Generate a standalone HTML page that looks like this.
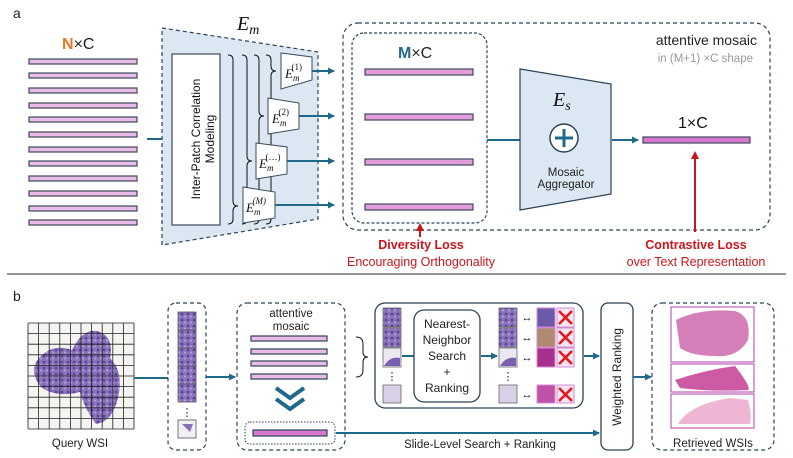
<!DOCTYPE html>
<html><head><meta charset="utf-8"><style>
html,body{margin:0;padding:0;background:#fff;}
svg{display:block;font-family:"Liberation Sans",sans-serif;}
</style></head><body>
<svg width="793" height="458" viewBox="0 0 793 458" xmlns="http://www.w3.org/2000/svg">
<defs>
<marker id="ab" markerWidth="8" markerHeight="8" refX="6" refY="4" orient="auto" markerUnits="userSpaceOnUse"><path d="M0,0.5 L7,4 L0,7.5 Z" fill="#1f6a8c"/></marker>
<marker id="ar" markerWidth="10" markerHeight="10" refX="5" refY="5" orient="auto" markerUnits="userSpaceOnUse"><path d="M0,1 L8,5 L0,9 Z" fill="#c8161d"/></marker>
<pattern id="tis" width="6" height="6" patternUnits="userSpaceOnUse"><rect width="6" height="6" fill="#8a72bc"/><circle cx="2" cy="2" r="1.3" fill="#5a3f92"/><circle cx="5" cy="4.5" r="1" fill="#b8a8d8"/></pattern>
</defs>

<!-- Panel a -->
<text x="13" y="18" font-size="14" fill="#222">a</text>
<text x="62" y="49" font-size="16" fill="#222"><tspan fill="#e87722" font-weight="bold">N</tspan>×C</text>
<g fill="#ebbbe8" stroke="#3b4a5a" stroke-width="1.2">
<rect x="29" y="59" width="108" height="5"/><rect x="29" y="73" width="108" height="5"/><rect x="29" y="88" width="108" height="5"/><rect x="29" y="103" width="108" height="5"/><rect x="29" y="117" width="108" height="5"/><rect x="29" y="132" width="108" height="5"/><rect x="29" y="147" width="108" height="5"/><rect x="29" y="161" width="108" height="5"/><rect x="29" y="176" width="108" height="5"/><rect x="29" y="191" width="108" height="5"/><rect x="29" y="206" width="108" height="5"/><rect x="29" y="220" width="108" height="5"/>
</g>
<line x1="147" y1="139" x2="169" y2="139" stroke="#1f6a8c" stroke-width="2" marker-end="url(#ab)"/>
<polygon points="162,28 318,52 318,219 162,245" fill="#dbe8f4" stroke="#2b4458" stroke-width="1.2" stroke-dasharray="4,3"/>
<text x="237" y="30" font-size="20" font-style="italic" font-family="Liberation Serif,serif" fill="#111">E<tspan font-size="14" dy="4">m</tspan></text>
<rect x="172" y="54" width="48" height="171" fill="#fff" stroke="#3b4a5a" stroke-width="1.2"/>
<text transform="translate(200,139) rotate(-90)" text-anchor="middle" font-size="12" fill="#111">Inter-Patch Correlation</text>
<text transform="translate(214,139) rotate(-90)" text-anchor="middle" font-size="12" fill="#111">Modeling</text>
<g fill="none" stroke="#111" stroke-width="1">
<path d="M228,55 Q233,55 233,60 L233,201 Q233,206 238,206 Q233,206 233,211 L233,219 Q233,224 228,224"/>
<path d="M242,55 Q247,55 247,60 L247,156 Q247,161 252,161 Q247,161 247,166 L247,219 Q247,224 242,224"/>
<path d="M254,55 Q259,55 259,60 L259,111 Q259,116 264,116 Q259,116 259,121 L259,219 Q259,224 254,224"/>
<path d="M266,55 Q271,55 271,60 L271,66 Q271,71 276,71 Q271,71 271,76 L271,219 Q271,224 266,224"/>
</g>
<g fill="#fff" stroke="#3b4a5a" stroke-width="1">
<polygon points="281,53 312,57 312,80 281,89"/>
<polygon points="268,98 299,103 299,129 268,134"/>
<polygon points="256,143 287,147 287,174 256,179"/>
<polygon points="243,187 275,192 275,218 243,223"/>
</g>
<g font-family="Liberation Serif,serif" font-style="italic" fill="#111">
<text x="285" y="78" font-size="13">E<tspan font-size="9" dy="3">m</tspan><tspan font-size="9" dx="-8" dy="-11" font-style="normal">(1)</tspan></text>
<text x="272" y="123" font-size="13">E<tspan font-size="9" dy="3">m</tspan><tspan font-size="9" dx="-8" dy="-11" font-style="normal">(2)</tspan></text>
<text x="259" y="168" font-size="13">E<tspan font-size="9" dy="3">m</tspan><tspan font-size="9" dx="-8" dy="-11" font-style="normal">(…)</tspan></text>
<text x="246" y="212" font-size="13">E<tspan font-size="9" dy="3">m</tspan><tspan font-size="9" dx="-8" dy="-11">(M)</tspan></text>
</g>
<g stroke="#1f6a8c" stroke-width="2" marker-end="url(#ab)">
<line x1="312" y1="71" x2="334" y2="71"/><line x1="299" y1="116" x2="334" y2="116"/><line x1="287" y1="161" x2="334" y2="161"/><line x1="275" y1="205" x2="334" y2="205"/>
</g>
<rect x="343" y="23" width="427" height="207" rx="15" fill="none" stroke="#2b4458" stroke-width="1.2" stroke-dasharray="4,3"/>
<rect x="352" y="33" width="135" height="190" rx="12" fill="none" stroke="#2b4458" stroke-width="1.2" stroke-dasharray="3,2"/>
<text x="398" y="58" font-size="16" fill="#222"><tspan fill="#1f6a8c" font-weight="bold">M</tspan>×C</text>
<g fill="#e39ddb" stroke="#3b4a5a" stroke-width="1.2">
<rect x="365" y="69" width="108" height="6"/><rect x="365" y="114" width="108" height="6"/><rect x="365" y="159" width="108" height="6"/><rect x="365" y="204" width="108" height="6"/>
</g>
<line x1="487" y1="140" x2="520" y2="140" stroke="#1f6a8c" stroke-width="2"/>
<polygon points="520,69 611,84 611,194 520,210" fill="#dbe8f4" stroke="#2b4458" stroke-width="1.2"/>
<text x="553" y="106" font-size="20" font-style="italic" font-family="Liberation Serif,serif" fill="#111">E<tspan font-size="14" dy="4">s</tspan></text>
<circle cx="564" cy="138" r="14" fill="#fff" stroke="#2b4458" stroke-width="1.5"/>
<path d="M564,129 V147 M555,138 H573" stroke="#1f6a8c" stroke-width="3"/>
<text x="566" y="176" text-anchor="middle" font-size="11.5" fill="#222">Mosaic</text>
<text x="566" y="188" text-anchor="middle" font-size="11.5" fill="#222">Aggregator</text>
<line x1="612" y1="140" x2="638" y2="140" stroke="#1f6a8c" stroke-width="2" marker-end="url(#ab)"/>
<text x="678" y="128" font-size="16" fill="#111">1×C</text>
<rect x="643" y="137" width="107" height="6" fill="#d877cf" stroke="#3b4a5a" stroke-width="1.2"/>
<line x1="695" y1="232" x2="695" y2="154" stroke="#c8161d" stroke-width="2" marker-end="url(#ar)"/>
<text x="757" y="45" text-anchor="end" font-size="14" fill="#222">attentive mosaic</text>
<text x="753" y="62" text-anchor="end" font-size="11.5" fill="#999">in (M+1) ×C shape</text>
<line x1="420" y1="237" x2="420" y2="226" stroke="#c8161d" stroke-width="2" marker-end="url(#ar)"/>
<text x="421" y="249" text-anchor="middle" font-size="12.5" font-weight="bold" fill="#c8161d">Diversity Loss</text>
<text x="421" y="266" text-anchor="middle" font-size="12.5" fill="#c8161d">Encouraging Orthogonality</text>
<text x="696" y="249" text-anchor="middle" font-size="12.5" font-weight="bold" fill="#c8161d">Contrastive Loss</text>
<text x="696" y="266" text-anchor="middle" font-size="12.5" fill="#c8161d">over Text Representation</text>
<line x1="7" y1="274" x2="786" y2="274" stroke="#555" stroke-width="1.2"/>

<!-- Panel b -->
<text x="13" y="301" font-size="14" fill="#222">b</text>
<rect x="28" y="323" width="106" height="106" fill="#f6f4f0"/>
<path d="M36,362 Q50,342 72,350 Q84,326 100,332 Q114,338 110,358 Q124,372 118,398 Q112,422 96,424 Q84,408 80,392 Q58,398 42,388 Q30,375 36,362 Z" fill="url(#tis)"/>
<g stroke="#222" stroke-width="0.8">
<path d="M28,323 H134 M28,333.6 H134 M28,344.2 H134 M28,354.8 H134 M28,365.4 H134 M28,376 H134 M28,386.6 H134 M28,397.2 H134 M28,407.8 H134 M28,418.4 H134 M28,429 H134"/>
<path d="M28,323 V429 M38.6,323 V429 M49.2,323 V429 M59.8,323 V429 M70.4,323 V429 M81,323 V429 M91.6,323 V429 M102.2,323 V429 M112.8,323 V429 M123.4,323 V429 M134,323 V429"/>
</g>
<text x="80" y="447" text-anchor="middle" font-size="11.5" fill="#222">Query WSI</text>
<line x1="134" y1="378" x2="168" y2="378" stroke="#1f6a8c" stroke-width="2"/>
<rect x="168" y="303" width="38" height="147" rx="8" fill="none" stroke="#2b4458" stroke-width="1.2" stroke-dasharray="4,3"/>
<g stroke="#555" stroke-width="0.8" fill="url(#tis)">
<rect x="178" y="312" width="18" height="18"/><rect x="178" y="330" width="18" height="18"/><rect x="178" y="348" width="18" height="18"/><rect x="178" y="366" width="18" height="18"/><rect x="178" y="384" width="18" height="18"/>
</g>
<text x="187" y="416" text-anchor="middle" font-size="11" fill="#222">⋮</text>
<rect x="178" y="420" width="18" height="18" fill="#f2eff5" stroke="#555" stroke-width="0.8"/>
<path d="M182,424 L193,424 L190,432 Z" fill="#8870b8"/>
<line x1="206" y1="377" x2="235" y2="377" stroke="#1f6a8c" stroke-width="2" marker-end="url(#ab)"/>
<rect x="237" y="303" width="108" height="147" rx="10" fill="none" stroke="#2b4458" stroke-width="1.2" stroke-dasharray="4,3"/>
<text x="291" y="317" text-anchor="middle" font-size="11.5" fill="#222">attentive</text>
<text x="291" y="330" text-anchor="middle" font-size="11.5" fill="#222">mosaic</text>
<g fill="#ebbbe8" stroke="#2b4458" stroke-width="1.2">
<rect x="251" y="336" width="76" height="5"/><rect x="251" y="349" width="76" height="5"/><rect x="251" y="361" width="76" height="5"/><rect x="251" y="374" width="76" height="5"/>
</g>
<path d="M276,388 L290,398 L304,388 M276,399 L290,409 L304,399" fill="none" stroke="#1f6a8c" stroke-width="4"/>
<rect x="245" y="422" width="90" height="22" rx="5" fill="none" stroke="#2b4458" stroke-width="1" stroke-dasharray="1.5,1.5"/>
<rect x="253" y="430" width="74" height="6" fill="#d877cf" stroke="#2b4458" stroke-width="1.2"/>
<line x1="336" y1="433" x2="599" y2="433" stroke="#1f6a8c" stroke-width="2" marker-end="url(#ab)"/>
<text x="480" y="448" text-anchor="middle" font-size="11.5" fill="#222">Slide-Level Search + Ranking</text>
<path d="M356,337 Q363,337 363,344 L363,352 Q363,357 368,357 Q363,357 363,362 L363,370 Q363,377 356,377" fill="none" stroke="#111" stroke-width="1"/>
<rect x="375" y="303" width="208" height="105" rx="10" fill="#fff" stroke="#2b4458" stroke-width="1.3"/>
<g stroke="#666" stroke-width="0.8" fill="url(#tis)">
<rect x="383" y="308" width="18" height="19"/><rect x="383" y="328" width="18" height="19"/><rect x="383" y="348" width="18" height="19" fill="#ece8f2"/><rect x="383" y="385" width="18" height="18" fill="#d8d0e6"/>
<rect x="499" y="308" width="18" height="19"/><rect x="499" y="328" width="18" height="19"/><rect x="499" y="348" width="18" height="19" fill="#ece8f2"/><rect x="499" y="385" width="18" height="18" fill="#d8d0e6"/>
</g>
<path d="M384,366 Q390,356 400,358 L400,366 Z M500,366 Q506,356 516,358 L516,366 Z" fill="#7a5fb0"/>
<text x="392" y="380" text-anchor="middle" font-size="11" fill="#222">⋮</text>
<text x="508" y="380" text-anchor="middle" font-size="11" fill="#222">⋮</text>
<line x1="402" y1="356" x2="414" y2="356" stroke="#1f6a8c" stroke-width="2"/>
<rect x="414" y="310" width="66" height="92" rx="10" fill="#fff" stroke="#2b4458" stroke-width="1.3"/>
<g font-size="12" fill="#222" text-anchor="middle">
<text x="447" y="328">Nearest-</text><text x="447" y="344">Neighbor</text><text x="447" y="360">Search</text><text x="447" y="376">+</text><text x="447" y="392">Ranking</text>
</g>
<line x1="481" y1="356" x2="497" y2="356" stroke="#1f6a8c" stroke-width="2" marker-end="url(#ab)"/>
<g font-size="11" fill="#111" text-anchor="middle">
<text x="527" y="321">↔</text><text x="527" y="341">↔</text><text x="527" y="361">↔</text><text x="527" y="398">↔</text>
</g>
<rect x="537" y="308" width="18" height="19" fill="#6c5aa8" stroke="#d08ad0"/>
<rect x="537" y="328" width="18" height="19" fill="#b08a70" stroke="#d08ad0"/>
<rect x="537" y="348" width="18" height="19" fill="#a8308f" stroke="#d08ad0"/>
<rect x="537" y="385" width="18" height="18" fill="#c050a8" stroke="#d08ad0"/>
<g fill="#f6e6f2" stroke="#d08ad0">
<rect x="557" y="308" width="17" height="19"/><rect x="557" y="328" width="17" height="19"/><rect x="557" y="348" width="17" height="19"/><rect x="557" y="385" width="17" height="18"/>
</g>
<path d="M559,311 L572,324 M572,311 L559,324 M559,331 L572,344 M572,331 L559,344 M559,351 L572,364 M572,351 L559,364 M559,388 L572,401 M572,388 L559,401" stroke="#e3141b" stroke-width="2.5"/>
<line x1="584" y1="356" x2="599" y2="356" stroke="#1f6a8c" stroke-width="2" marker-end="url(#ab)"/>
<rect x="601" y="303" width="32" height="147" rx="7" fill="#fff" stroke="#2b4458" stroke-width="1.3"/>
<text transform="translate(621,377) rotate(-90)" text-anchor="middle" font-size="12" fill="#222">Weighted Ranking</text>
<line x1="633" y1="377" x2="651" y2="377" stroke="#1f6a8c" stroke-width="2" marker-end="url(#ab)"/>
<rect x="652" y="303" width="122" height="147" rx="10" fill="none" stroke="#2b4458" stroke-width="1.2" stroke-dasharray="4,3"/>
<rect x="671" y="307" width="83" height="55" fill="#fff" stroke="#b040a8"/>
<path d="M676,320 Q700,308 735,311 Q752,316 748,340 Q738,358 715,356 Q692,356 680,348 Z" fill="#d57fb8"/>
<rect x="671" y="364" width="83" height="28" fill="#fff" stroke="#b040a8"/>
<path d="M675,380 Q705,370 735,366 Q752,388 748,390 Q712,392 680,388 Z" fill="#cc5aa5"/>
<rect x="671" y="394" width="83" height="34" fill="#fff" stroke="#b040a8"/>
<path d="M678,424 Q690,404 730,398 L748,400 Q752,415 750,424 Z" fill="#eeb5d4"/>
<text x="713" y="447" text-anchor="middle" font-size="11.5" fill="#222">Retrieved WSIs</text>
</svg>
</body></html>
